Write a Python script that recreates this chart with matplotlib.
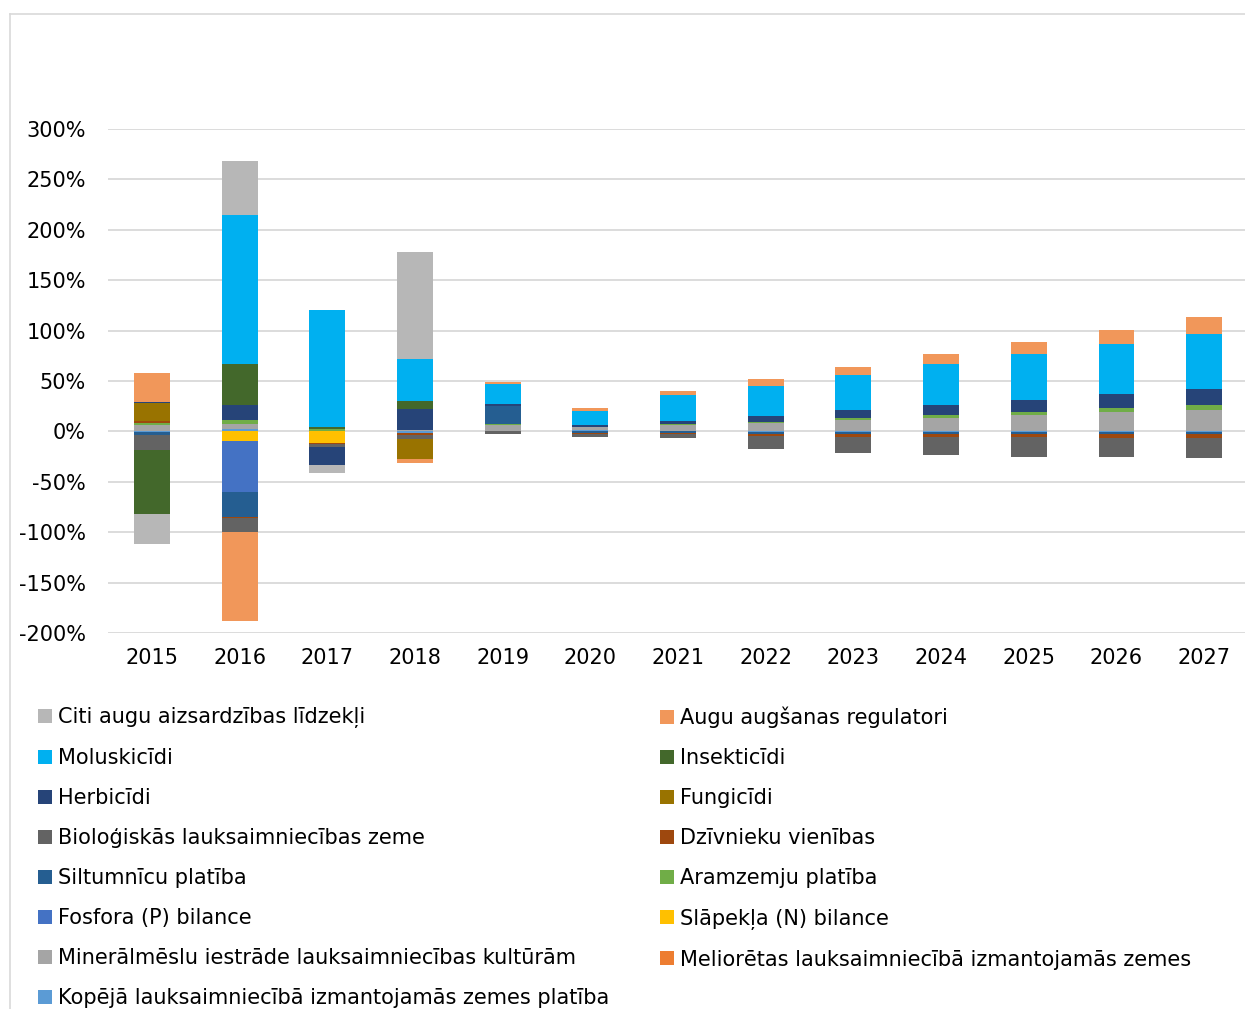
import numpy as np
import matplotlib.pyplot as plt
from matplotlib.lines import Line2D

years = ["2015", "2016", "2017", "2018", "2019", "2020", "2021",
         "2022", "2023", "2024", "2025", "2026", "2027"]

# values in % (stack order: first = closest to zero)
kopeja = [-0.6, 2.0, 0, -1.5, 0, 1.0, 0, -0.8, -0.8, -0.8, -0.8, -0.8, -0.8]
meliorets = [0, 0, 0, 0, 0, 0, 0, 0, 0, 0, 0, 0, 0]
mineralmeslu = [6.3, 5.3, 0.8, 1.4, 6.3, 3.4, 6.5, 7.9, 11.3, 13.6, 16.6, 19.2, 21.5]
slapekla = [0, -10.0, -11.2, 0, 0, 0, 0, 0, 0, 0, 0, 0, 0]
fosfora = [0, -50.3, 0, 0, 0, 0, 0, 0, 0, 0, 0, 0, 0]
aramzemju = [2.0, 4.0, 1.2, 0, 1.0, 0, 0.5, 1.7, 1.9, 2.3, 2.9, 3.6, 4.3]
siltumnicu = [-3.0, -24.2, 0, 0, 17.9, -2.0, -2.0, -2.2, -2.2, -2.2, -2.2, -2.2, -2.2]
dzivnieku = [2.0, -1.9, -1.7, -2.0, 0, -0.8, -1.0, -1.7, -3.0, -3.0, -3.0, -3.3, -4.0]
biologiskas = [-14.9, -13.6, -2.3, -4.0, -2.5, -2.4, -3.9, -12.8, -15.5, -17.5, -19.2, -19.3, -19.1]
fungicidi = [17.6, 0, 0, -19.9, 0, 0, 0, 0, 0, 0, 0, 0, 0]
herbicidi = [1.6, 14.9, -18.2, 20.6, 2.0, 1.6, 3.6, 5.3, 7.7, 10.3, 11.6, 14.0, 15.9]
insekticidi = [-63.8, 40.3, 2.6, 8.5, 0, 0, 0, 0, 0, 0, 0, 0, 0]
moluskicidi = [0, 148.2, 115.8, 41.0, 19.8, 14.5, 25.2, 30.5, 34.7, 40.4, 45.4, 49.6, 55.3]
augu = [28.7, -88.0, 0, -3.6, 2.0, 2.5, 4.2, 6.3, 8.3, 10.2, 11.9, 14.6, 16.2]
citi = [-29.4, 53.9, -8.3, 106.5, 0, 0, 0, 0, 0, 0, 0, 0, 0]

names = ["Kopējā lauksaimniecībā izmantojamās zemes platība",
         "Meliorētas lauksaimniecībā izmantojamās zemes",
         "Minerālmēslu iestrāde lauksaimniecības kultūrām",
         "Slāpekļa (N) bilance",
         "Fosfora (P) bilance",
         "Aramzemju platība",
         "Siltumnīcu platība",
         "Dzīvnieku vienības",
         "Bioloģiskās lauksaimniecības zeme",
         "Fungicīdi",
         "Herbicīdi",
         "Insekticīdi",
         "Moluskicīdi",
         "Augu augšanas regulatori",
         "Citi augu aizsardzības līdzekļi"]
colors = ["#5B9BD5", "#ED7D31", "#A5A5A5", "#FFC000", "#4472C4", "#70AD47",
          "#255E91", "#9E480E", "#636363", "#997300", "#264478", "#43682B",
          "#00B0F0", "#F1975A", "#B7B7B7"]
series = [kopeja, meliorets, mineralmeslu, slapekla, fosfora, aramzemju,
          siltumnicu, dzivnieku, biologiskas, fungicidi, herbicidi,
          insekticidi, moluskicidi, augu, citi]

W, H = 1245, 1009
fig = plt.figure(figsize=(W / 100, H / 100), dpi=100)
ax = fig.add_axes([108.2 / W, 1 - 633 / H, (1248 - 108.2) / W, 504 / H])

x = np.arange(len(years))
pos = np.zeros(len(years))
neg = np.zeros(len(years))
handles = {}
for name, vals, col in zip(names, series, colors):
    v = np.array(vals, dtype=float)
    bottom = np.where(v >= 0, pos, neg)
    handles[name] = ax.bar(x, v, 0.41, bottom=bottom, color=col,
                           linewidth=0, zorder=3)
    pos += np.clip(v, 0, None)
    neg += np.clip(v, None, 0)

ax.set_xlim(-0.5, 12.5)
ax.set_ylim(-200, 300)
ticks = list(range(-200, 301, 50))
ax.set_yticks(ticks)
ax.set_yticklabels([f"{t}%" for t in ticks])
ax.set_xticks(x)
ax.set_xticklabels(years)
ax.yaxis.grid(True, color="#D9D9D9", linewidth=1.3, zorder=0)
ax.set_axisbelow(True)
for s in ax.spines.values():
    s.set_visible(False)
ax.tick_params(axis="y", length=0, pad=16, labelsize=15)
ax.tick_params(axis="x", length=0, pad=10.5, labelsize=15)

# chart area border (left and top visible)
fig.add_artist(Line2D([10 / W, 10 / W], [0, 1 - 14 / H], color="#D9D9D9", lw=1.2))
fig.add_artist(Line2D([10 / W, 1], [1 - 14 / H, 1 - 14 / H], color="#D9D9D9", lw=1.2))

legend_order = names[::-1]
col1 = legend_order[0::2]
col2 = legend_order[1::2]
for labels, x0 in [(col1, 38), (col2, 660)]:
    fig.legend([handles[n] for n in labels], labels, loc="upper left",
               bbox_to_anchor=(x0 / W, 1 - 707 / H), frameon=False,
               fontsize=15, borderpad=0, borderaxespad=0,
               handlelength=0.65, handleheight=0.65, handletextpad=0.3,
               labelspacing=0.96)

fig.savefig("out.png", dpi=100)
